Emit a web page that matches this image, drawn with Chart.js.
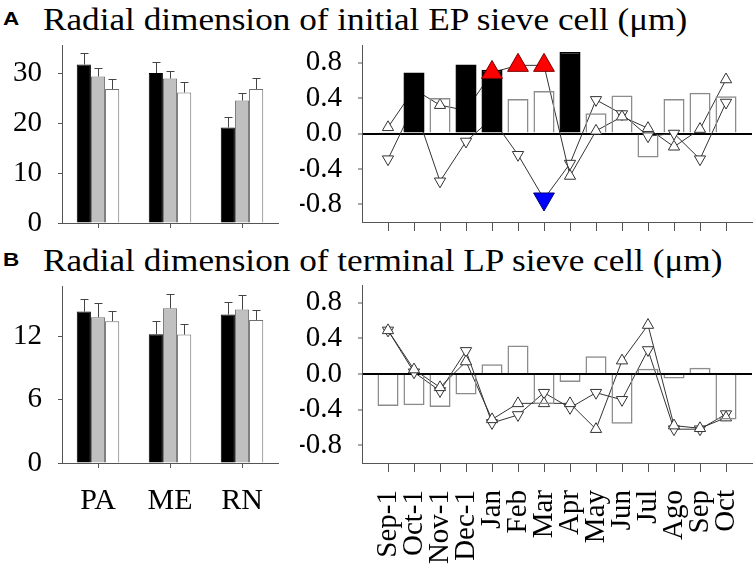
<!DOCTYPE html>
<html lang="en">
<head>
<meta charset="UTF-8">
<title>Radial dimension of sieve cells</title>
<script src="https://cdn.jsdelivr.net/npm/chart.js"></script>
<style>
  body { margin: 0; background: #fff; }
  #wrap { position: relative; width: 756px; height: 572px; overflow: hidden; font-family: "Liberation Serif", Tinos, "DejaVu Serif", serif; }
  .box { position: absolute; }
  .tag { position: absolute; font: bold 18px "Liberation Sans", Arimo, Arial, sans-serif; line-height: 1; transform-origin: left top; transform: scaleX(1.25); }
  .title { position: absolute; font-size: 32px; line-height: 1; white-space: nowrap; transform-origin: left top; transform: scaleX(1.1); }
</style>
</head>
<body>
<div id="wrap">
  <div class="tag" style="left:3px; top:10px;">A</div>
  <div class="title" style="left:43px; top:3px;">Radial dimension of initial EP sieve cell (μm)</div>
  <div class="tag" style="left:3px; top:251px;">B</div>
  <div class="title" style="left:43px; top:244px;">Radial dimension of terminal LP sieve cell (μm)</div>

  <div class="box" style="left:0; top:30px; width:300px; height:230px;"><canvas id="epMean"></canvas></div>
  <div class="box" style="left:300px; top:30px; width:456px; height:230px;"><canvas id="epCorr"></canvas></div>
  <div class="box" style="left:0; top:270px; width:300px; height:302px;"><canvas id="lpMean"></canvas></div>
  <div class="box" style="left:300px; top:270px; width:456px; height:302px;"><canvas id="lpCorr"></canvas></div>
</div>

<script>
// sites and sampling months
const groups = ["PA", "ME", "RN"];
const months = ["Sep-1", "Oct-1", "Nov-1", "Dec-1", "Jan", "Feb", "Mar", "Apr", "May", "Jun", "Jul", "Ago", "Sep", "Oct"];

// A - means and SD per site (black, gray, white bars)
const epBlack = [31.7, 30.0, 19.1];
const epBlackSd = [2.3, 2.3, 2.2];
const epGray = [29.3, 28.9, 24.5];
const epGraySd = [1.6, 1.6, 1.6];
const epWhite = [26.8, 26.1, 26.8];
const epWhiteSd = [2.0, 2.1, 2.1];
const epTicks = [0, 10, 20, 30];

// B - means and SD per site
const lpBlack = [14.37, 12.23, 14.09];
const lpBlackSd = [1.2, 1.23, 1.2];
const lpGray = [13.84, 14.69, 14.56];
const lpGraySd = [1.33, 1.36, 1.36];
const lpWhite = [13.46, 12.19, 13.58];
const lpWhiteSd = [0.94, 0.98, 0.98];
const lpTicks = [0, 6, 12];

// correlation panels
const corrTicks = [-0.8, -0.4, 0, 0.4, 0.8];

const epBars = [0.015, 0.69, 0.40, 0.78, 0.72, 0.39, 0.48, 0.92, 0.23, 0.43, -0.27, 0.39, 0.46, 0.42];
const epBarSig = [1, 1, 0, 1, 1, 0, 0, 1, 0, 0, 0, 0, 0, 0];
const epUp = [0.07, 0.50, 0.32, 0.26, 0.69, 0.77, 0.77, -0.48, 0.03, 0.19, 0.06, -0.15, 0.05, 0.61];
const epUpSig = [0, 0, 0, 0, 1, 1, 1, 0, 0, 0, 0, 0, 0, 0];
const epDown = [-0.29, 0.32, -0.54, -0.09, 0.17, -0.24, -0.74, -0.34, 0.38, 0.22, -0.03, 0.0, -0.29, 0.35];
const epDownSig = [0, 0, 0, 0, 0, 0, 1, 0, 0, 0, 0, 0, 0, 0];

const lpBars = [-0.36, -0.35, -0.37, -0.23, 0.11, 0.32, -0.34, -0.09, 0.20, -0.56, 0.06, -0.05, 0.07, -0.51];
const lpBarSig = [0, 0, 0, 0, 0, 0, 0, 0, 0, 0, 0, 0, 0, 0];
const lpUp = [0.49, 0.05, -0.15, 0.14, -0.51, -0.33, -0.33, -0.33, -0.62, 0.15, 0.55, -0.58, -0.61, -0.49];
const lpUpSig = [0, 0, 0, 0, 0, 0, 0, 0, 0, 0, 0, 0, 0, 0];
const lpDown = [0.49, 0.02, -0.19, 0.26, -0.55, -0.46, -0.21, -0.38, -0.21, -0.29, 0.27, -0.62, -0.62, -0.45];
const lpDownSig = [0, 0, 0, 0, 0, 0, 0, 0, 0, 0, 0, 0, 0, 0];

Chart.defaults.font.family = "'Liberation Serif', Tinos, 'DejaVu Serif', serif";
Chart.defaults.color = "#000";

const AXIS = "#555";

// force the axis box size so the plot areas line up with each other
function fixBox(w, h) {
  return function (scale) {
    if (w != null) scale.width = w;
    if (h != null) scale.height = h;
    scale.paddingTop = 0;
    scale.paddingBottom = 0;
    scale.paddingLeft = 0;
    scale.paddingRight = 0;
  };
}

// upper error bars (mean + SD) on the site bars
const errorBars = {
  id: "errorBars",
  afterDatasetsDraw(chart) {
    const ctx = chart.ctx;
    const yScale = chart.scales.y;
    chart.data.datasets.forEach((ds, i) => {
      if (!ds.sd) return;
      const meta = chart.getDatasetMeta(i);
      ctx.save();
      ctx.strokeStyle = "#444";
      ctx.lineWidth = 1;
      meta.data.forEach((bar, j) => {
        const x = Math.round(bar.x) + 0.5;
        const top = Math.round(yScale.getPixelForValue(ds.data[j] + ds.sd[j])) + 0.5;
        ctx.beginPath();
        ctx.moveTo(x, bar.y);
        ctx.lineTo(x, top);
        ctx.moveTo(x - 4, top);
        ctx.lineTo(x + 4, top);
        ctx.stroke();
      });
      ctx.restore();
    });
  }
};

function meanChart(id, black, blackSd, gray, graySd, white, whiteSd, yMax, ticks, padTop, xHeight, showLabels) {
  new Chart(document.getElementById(id), {
    type: "bar",
    data: {
      labels: groups,
      datasets: [
        { data: black, sd: blackSd, backgroundColor: "#000", borderColor: "#000", borderWidth: 1 },
        { data: gray, sd: graySd, backgroundColor: "#c0c0c0", borderColor: "#6e6e6e", borderWidth: 1 },
        { data: white, sd: whiteSd, backgroundColor: "#fff", borderColor: "#6e6e6e", borderWidth: 1 }
      ]
    },
    options: {
      responsive: true,
      maintainAspectRatio: false,
      animation: false,
      categoryPercentage: 0.59,
      barPercentage: 1,
      layout: { padding: { top: padTop, right: 22, left: 0, bottom: 0 }, autoPadding: false },
      plugins: { legend: { display: false }, tooltip: { enabled: false } },
      scales: {
        x: {
          offset: true,
          grid: { drawOnChartArea: false, offset: false, tickLength: 5, color: AXIS },
          border: { color: AXIS },
          ticks: { display: showLabels, font: { size: 30 }, padding: 15 },
          afterFit: fixBox(null, xHeight)
        },
        y: {
          min: 0,
          max: yMax,
          afterBuildTicks: ax => { ax.ticks = ticks.map(v => ({ value: v })); },
          grid: { drawOnChartArea: false, tickLength: 4, color: AXIS },
          border: { color: AXIS },
          ticks: { font: { size: 29 }, padding: 16 },
          afterFit: fixBox(62, null)
        }
      }
    },
    plugins: [errorBars]
  });
}

function corrChart(id, bars, barSig, up, upSig, down, downSig, padTop, xHeight, showLabels) {
  const pts = arr => arr.map((v, i) => ({ x: i, y: v }));
  const marks = (arr, sig) => arr.map((v, i) => ({ x: i, y: sig[i] ? v : null }));
  const lineStyle = {
    type: "line", order: 3, borderColor: "#333", borderWidth: 1, tension: 0,
    pointStyle: "triangle", pointRadius: 6.5, pointBackgroundColor: "#fff",
    pointBorderColor: "#333", pointBorderWidth: 1
  };
  new Chart(document.getElementById(id), {
    type: "bar",
    data: {
      datasets: [
        Object.assign({ data: pts(up) }, lineStyle),
        Object.assign({ data: pts(down), pointRotation: 180 }, lineStyle),
        {
          type: "bar", order: 2, data: pts(bars),
          backgroundColor: barSig.map(s => s ? "#000" : "rgba(0,0,0,0)"),
          borderColor: barSig.map(s => s ? "#000" : "#8c8c8c"),
          borderWidth: 1.5, barPercentage: 0.81, categoryPercentage: 1
        },
        {
          type: "line", order: 1, showLine: false, data: marks(up, upSig),
          pointStyle: "triangle", pointRadius: 12, pointBackgroundColor: "#ff0000",
          pointBorderColor: "#700", pointBorderWidth: 1
        },
        {
          type: "line", order: 1, showLine: false, data: marks(down, downSig),
          pointStyle: "triangle", pointRotation: 180, pointRadius: 12, pointBackgroundColor: "#0000ff",
          pointBorderColor: "#007", pointBorderWidth: 1
        }
      ]
    },
    options: {
      responsive: true,
      maintainAspectRatio: false,
      animation: false,
      layout: { padding: { top: padTop, right: 4, left: 0, bottom: 0 }, autoPadding: false },
      plugins: { legend: { display: false }, tooltip: { enabled: false } },
      scales: {
        x: {
          type: "linear",
          min: -1,
          max: 14,
          offset: false,
          afterBuildTicks: ax => { ax.ticks = months.map((m, i) => ({ value: i })); },
          grid: { drawOnChartArea: false, offset: false, tickLength: 9, color: AXIS },
          border: { color: AXIS },
          ticks: {
            display: showLabels, autoSkip: false, minRotation: 90, maxRotation: 90,
            font: { size: 29 }, padding: 18,
            callback: v => months[v]
          },
          afterFit: fixBox(null, xHeight)
        },
        y: {
          min: -1,
          max: 1,
          afterBuildTicks: ax => { ax.ticks = corrTicks.map(v => ({ value: v })); },
          grid: {
            drawOnChartArea: true, tickLength: 4, tickColor: AXIS, tickWidth: 1, lineWidth: 2,
            color: c => (c.tick && c.tick.value === 0 ? "#000" : "rgba(0,0,0,0)")
          },
          border: { color: AXIS },
          ticks: { font: { size: 29 }, padding: 16, callback: v => v.toFixed(1) },
          afterFit: fixBox(62, null)
        }
      }
    }
  });
}

meanChart("epMean", epBlack, epBlackSd, epGray, epGraySd, epWhite, epWhiteSd, 35.6, epTicks, 15, 37, false);
corrChart("epCorr", epBars, epBarSig, epUp, epUpSig, epDown, epDownSig, 15, 38, false);
meanChart("lpMean", lpBlack, lpBlackSd, lpGray, lpGraySd, lpWhite, lpWhiteSd, 16.8, lpTicks, 16, 109, true);
corrChart("lpCorr", lpBars, lpBarSig, lpUp, lpUpSig, lpDown, lpDownSig, 15, 109, true);
</script>
</body>
</html>
